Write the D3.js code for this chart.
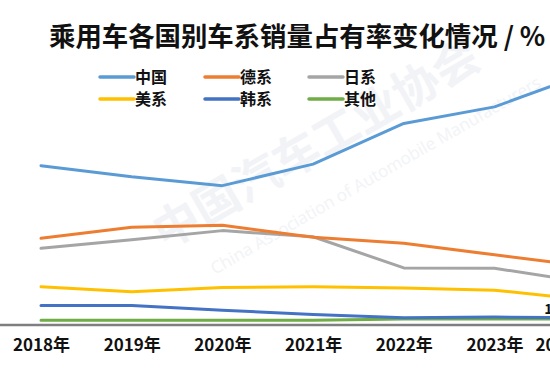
<!DOCTYPE html>
<html>
<head>
<meta charset="utf-8">
<script src="https://cdn.jsdelivr.net/npm/d3@7"></script>
<style>
  html, body { margin: 0; padding: 0; background: #fff; overflow: hidden; }
  svg { display: block; }
</style>
</head>
<body>
<div id="chart"></div>
<script>
const years = ["2018年", "2019年", "2020年", "2021年", "2022年", "2023年", "2024年1-9月"];
const seriesNames = ["中国", "德系", "日系", "美系", "韩系", "其他"];
const chinaValues  = [41.2, 38.3, 36.0, 41.6, 52.2, 56.5, 65.1];
const germanValues = [22.3, 25.2, 25.7, 22.6, 21.0, 18.0, 15.1];
const japanValues  = [19.7, 21.9, 24.3, 22.7, 14.6, 14.5, 10.9];
const usValues     = [9.7, 8.4, 9.5, 9.7, 9.4, 8.8, 6.3];
const koreaValues  = [4.8, 4.8, 3.6, 2.5, 1.6, 1.8, 1.6];
const otherValues  = [1.0, 1.0, 1.0, 1.0, 1.3, 1.3, 1.3];
const colors = ["#5b9bd5", "#ed7d31", "#a5a5a5", "#ffc000", "#4472c4", "#70ad47"];
const title = "乘用车各国别车系销量占有率变化情况 / %";
const labelText = "1.6";

const allValues = [chinaValues, germanValues, japanValues, usValues, koreaValues, otherValues];
const series = seriesNames.map((n, i) => ({ name: n, values: allValues[i], color: colors[i] }));

const W = 550, H = 378;
const svg = d3.select("#chart").append("svg").attr("width", W).attr("height", H);
const font = "'Noto Sans CJK SC', 'Noto Sans', sans-serif";

// faint watermark
const wm = svg.append("g").attr("fill", "#e6e9ef").attr("opacity", 0.5)
  .style("font-family", font).style("font-weight", 700);
wm.append("text").attr("transform", "translate(165,250) rotate(-30)")
  .attr("font-size", 46).text("中国汽车工业协会");
wm.append("text").attr("transform", "translate(215,275) rotate(-30)")
  .attr("font-size", 17).style("font-weight", 400)
  .style("font-family", "'Open Sans', sans-serif")
  .text("China Association of Automobile Manufacturers");

const x = d3.scalePoint().domain(years).range([41, 41 + 6 * 90.7]);
const y = d3.scaleLinear().domain([0, 70]).range([324, 55]);

// title
svg.append("text").attr("x", 49).attr("y", 46)
  .attr("font-family", font).attr("font-weight", 700).attr("font-size", 26.4)
  .attr("fill", "#111").text(title);

// legend
const legCols = [100, 205, 309];
const legRows = [77, 99];
series.forEach((s, i) => {
  const lx = legCols[i % 3], ly = legRows[Math.floor(i / 3)];
  const g = svg.append("g");
  g.append("line").attr("x1", lx).attr("x2", lx + 34).attr("y1", ly).attr("y2", ly)
    .attr("stroke", s.color).attr("stroke-width", 3.5).attr("stroke-linecap", "round");
  g.append("text").attr("x", lx + 35).attr("y", ly).attr("dy", "0.36em")
    .attr("font-family", font).attr("font-weight", 700).attr("font-size", 16)
    .attr("fill", "#111").text(s.name);
});

// axis
const axis = svg.append("g").attr("transform", "translate(0,325)")
  .call(d3.axisBottom(x).tickSize(0).tickPadding(14));
axis.select(".domain").remove();
axis.append("line").attr("x1", 0).attr("x2", W).attr("y1", 0).attr("y2", 0)
  .attr("stroke", "#7f7f7f").attr("stroke-width", 2.5);
axis.selectAll(".tick text").attr("font-family", font).attr("font-weight", 700)
  .attr("font-size", 17).attr("fill", "#111");

// lines
const line = d3.line().x((d, i) => x(years[i])).y(d => y(d));
const order = [5, 4, 3, 2, 1, 0];
order.forEach(i => {
  const s = series[i];
  svg.append("path").datum(s.values).attr("d", line)
    .attr("fill", "none").attr("stroke", s.color).attr("stroke-width", 3)
    .attr("stroke-linejoin", "round").attr("stroke-linecap", "round");
});

// data label (partially visible)
svg.append("text").attr("x", x(years[6]) - 41).attr("y", y(koreaValues[6]) - 4)
  .attr("font-family", font).attr("font-weight", 700).attr("font-size", 14)
  .attr("fill", "#111").text(labelText);
</script>
</body>
</html>
